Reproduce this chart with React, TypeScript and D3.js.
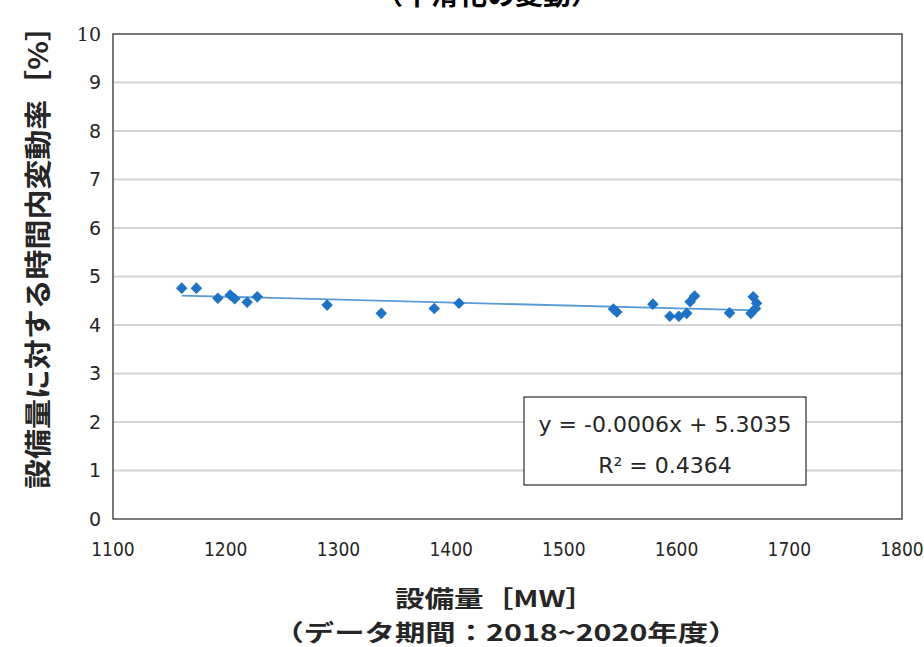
import React from "react";
import * as d3 from "d3";

const capacityMW: number[] = [
  1161, 1174, 1193, 1204, 1208, 1219, 1228, 1290, 1338, 1385, 1407,
  1544, 1547, 1579, 1594, 1602, 1609, 1612, 1616, 1647, 1666, 1668, 1671, 1670,
];
const variationPct: number[] = [
  4.76, 4.76, 4.55, 4.62, 4.54, 4.47, 4.58, 4.41, 4.24, 4.34, 4.45,
  4.33, 4.27, 4.43, 4.18, 4.18, 4.24, 4.48, 4.6, 4.25, 4.24, 4.58, 4.45, 4.34,
];
const xTicks: number[] = [1100, 1200, 1300, 1400, 1500, 1600, 1700, 1800];
const yTicks: number[] = [0, 1, 2, 3, 4, 5, 6, 7, 8, 9, 10];
const trendSlope = -0.0006;
const trendIntercept = 5.3035;
const equationLines: string[] = ["y = -0.0006x + 5.3035", "R² = 0.4364"];
const titleText = "（平滑化の変動）";
const yTitle = "設備量に対する時間内変動率［%］";
const xTitle1 = "設備量［MW］";
const xTitle2 = "（データ期間：2018~2020年度）";

export default function App() {
  const W = 924, H = 647;
  const left = 113, right = 902, top = 34, bottom = 519;
  const x = d3.scaleLinear().domain([1100, 1800]).range([left, right]);
  const y = d3.scaleLinear().domain([0, 10]).range([bottom, top]);
  const xMin = d3.min(capacityMW)!;
  const xMax = d3.max(capacityMW)!;
  const trend = d3.line<number>().x((d) => x(d)).y((d) => y(trendSlope * d + trendIntercept));
  const diamond = d3.symbol().type(d3.symbolDiamond2).size(85)()!;
  const tickFont = "'DejaVu Sans', Verdana, sans-serif";
  const cjkFont = "'Noto Sans CJK JP', sans-serif";

  return (
    <svg width={W} height={H} style={{ position: "absolute", left: 0, top: 0, background: "#fff" }}>
      <rect x={0} y={0} width={W} height={H} fill="#fff" />
      <text x={487} y={5} textAnchor="middle" fontFamily={cjkFont} fontWeight={700} fontSize={28} fill="#000">
        {titleText}
      </text>
      {yTicks.slice(1, -1).map((t) => (
        <line key={"g" + t} x1={left} x2={right} y1={y(t)} y2={y(t)} stroke="#d4d4d4" strokeWidth={1.8} />
      ))}
      <rect x={left} y={top} width={right - left} height={bottom - top} fill="none" stroke="#404040" strokeWidth={1.4} />
      {yTicks.map((t) => (
        <text key={"yt" + t} x={101} y={y(t)} dy="0.36em" textAnchor="end"
          fontFamily={t === 10 ? "'DejaVu Serif', serif" : tickFont} fontSize={19} fill="#262626">
          {t}
        </text>
      ))}
      {xTicks.map((t) => (
        <text key={"xt" + t} x={x(t)} y={549} dy="0.36em" textAnchor="middle"
          fontFamily="'DejaVu Sans Condensed', 'DejaVu Sans', sans-serif" fontStretch="condensed" fontSize={19} fill="#262626">
          {t}
        </text>
      ))}
      <path d={trend([xMin, xMax])!} stroke="#5b9bd5" strokeWidth={1.8} fill="none" />
      {capacityMW.map((c, i) => (
        <path key={"p" + i} d={diamond} transform={`translate(${x(c)},${y(variationPct[i])})`} fill="#1f72c4" />
      ))}
      <rect x={524} y={397} width={282} height={88} fill="#fff" stroke="#000" strokeWidth={1} />
      {equationLines.map((s, i) => (
        <text key={"eq" + i} x={665} y={424 + i * 41} dy="0.36em" textAnchor="middle"
          fontFamily={tickFont} fontSize={22} fill="#262626">
          {s}
        </text>
      ))}
      <text transform={`translate(38,250) rotate(-90)`} textAnchor="middle" dy="0.36em"
        fontFamily={cjkFont} fontWeight={700} fontSize={27} fill="#262626" textLength={478} lengthAdjust="spacingAndGlyphs">
        {yTitle}
      </text>
      <text x={495} y={599} dy="0.36em" textAnchor="middle" fontFamily={cjkFont} fontWeight={700} fontSize={23} fill="#262626"
        textLength={200} lengthAdjust="spacingAndGlyphs">
        {xTitle1}
      </text>
      <text x={506} y={633} dy="0.36em" textAnchor="middle" fontFamily={cjkFont} fontWeight={700} fontSize={23} fill="#262626"
        textLength={465} lengthAdjust="spacingAndGlyphs">
        {xTitle2}
      </text>
    </svg>
  );
}
